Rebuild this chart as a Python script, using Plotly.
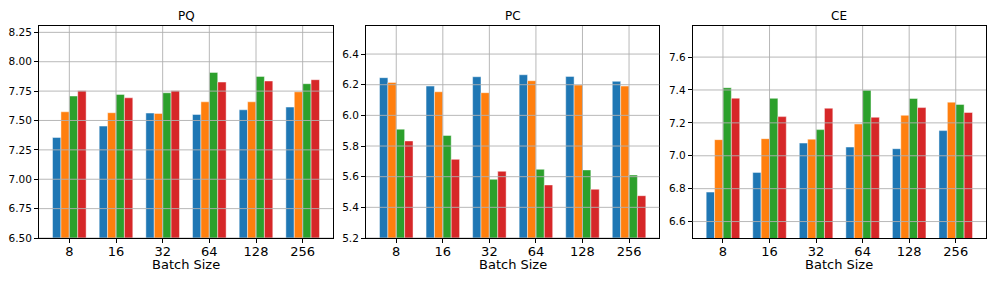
import plotly.graph_objects as go

batch_sizes = ["8", "16", "32", "64", "128", "256"]
series_colors = ["#1f77b4", "#ff7f0e", "#2ca02c", "#d62728"]

pq_s1 = [7.355, 7.452, 7.563, 7.551, 7.591, 7.614]
pq_s2 = [7.574, 7.566, 7.560, 7.659, 7.659, 7.744]
pq_s3 = [7.708, 7.722, 7.736, 7.909, 7.875, 7.813]
pq_s4 = [7.753, 7.693, 7.753, 7.827, 7.836, 7.847]

pc_s1 = [6.246, 6.191, 6.252, 6.265, 6.254, 6.222]
pc_s2 = [6.215, 6.154, 6.148, 6.226, 6.198, 6.191]
pc_s3 = [5.910, 5.869, 5.583, 5.648, 5.644, 5.611]
pc_s4 = [5.833, 5.713, 5.635, 5.546, 5.518, 5.476]

ce_s1 = [6.779, 6.899, 7.077, 7.053, 7.043, 7.153]
ce_s2 = [7.098, 7.104, 7.101, 7.193, 7.246, 7.326]
ce_s3 = [7.414, 7.349, 7.159, 7.399, 7.348, 7.312]
ce_s4 = [7.350, 7.238, 7.289, 7.234, 7.293, 7.263]

panel_titles = ["PQ", "PC", "CE"]
x_title = "Batch Size"
panel_series = [
    [pq_s1, pq_s2, pq_s3, pq_s4],
    [pc_s1, pc_s2, pc_s3, pc_s4],
    [ce_s1, ce_s2, ce_s3, ce_s4],
]
panel_ranges = [[6.5, 8.304], [5.2, 6.583], [6.5, 7.789]]
panel_ticks = [
    [6.50, 6.75, 7.00, 7.25, 7.50, 7.75, 8.00, 8.25],
    [5.2, 5.4, 5.6, 5.8, 6.0, 6.2, 6.4],
    [6.6, 6.8, 7.0, 7.2, 7.4, 7.6],
]
panel_fmt = [".2f", ".1f", ".1f"]
x_domains = [[39 / 997, 333 / 997], [366 / 997, 659.3 / 997], [692.7 / 997, 986 / 997]]
y_domain = [1 - 238 / 285, 1 - 26 / 285]

fig = go.Figure()
grid_color = "#b0b0b0"
shapes = []
annotations = []

for i in range(3):
    xa = "x" if i == 0 else f"x{i+1}"
    ya = "y" if i == 0 else f"y{i+1}"
    for k, vals in enumerate(panel_series[i]):
        fig.add_trace(go.Bar(
            x=batch_sizes, y=vals, xaxis=xa, yaxis=ya,
            marker=dict(color=series_colors[k],
                        line=dict(color="rgba(255,255,255,0.45)", width=1)),
            offsetgroup=str(k), showlegend=False,
        ))
    base = ya.replace("y", "yaxis")
    xbase = xa.replace("x", "xaxis")
    fig.layout[xbase] = dict(
        domain=x_domains[i], anchor=ya, type="category", automargin=False,
        range=[-0.65, 5.65], showgrid=False,
        showline=True, linecolor="black", linewidth=1, mirror=True,
        ticks="outside", ticklen=4, tickcolor="black", ticklabelstandoff=-3,
        tickfont=dict(family="DejaVu Sans", size=13, color="black"),
        zeroline=False,
    )
    fig.layout[base] = dict(
        domain=y_domain, anchor=xa, range=panel_ranges[i], automargin=False,
        tickvals=panel_ticks[i], tickformat=panel_fmt[i], showgrid=False,
        showline=True, linecolor="black", linewidth=1, mirror=True,
        ticks="outside", ticklen=4, tickcolor="black",
        tickfont=dict(family="DejaVu Sans", size=10.5, color="black"),
        zeroline=False,
    )
    for t in panel_ticks[i]:
        shapes.append(dict(type="line", xref=f"{xa} domain", yref=ya,
                           x0=0, x1=1, y0=t, y1=t, layer="above",
                           line=dict(color=grid_color, width=0.9)))
    for j in range(len(batch_sizes)):
        shapes.append(dict(type="line", xref=xa, yref=f"{ya} domain",
                           x0=j, x1=j, y0=0, y1=1, layer="above",
                           line=dict(color=grid_color, width=0.9)))
    cx = sum(x_domains[i]) / 2
    annotations.append(dict(
        text=panel_titles[i], xref="paper", yref="paper",
        x=cx, y=1 - 16 / 285, showarrow=False,
        xanchor="center", yanchor="middle",
        font=dict(family="DejaVu Sans", size=12, color="black"),
    ))
    annotations.append(dict(
        text=x_title, xref="paper", yref="paper",
        x=cx, y=1 - 264.5 / 285, showarrow=False,
        xanchor="center", yanchor="middle",
        font=dict(family="DejaVu Sans", size=13, color="black"),
    ))

fig.update_layout(
    width=997, height=285, margin=dict(l=0, r=0, t=0, b=0),
    paper_bgcolor="white", plot_bgcolor="white",
    barmode="group", bargap=0.28, bargroupgap=0,
    shapes=shapes, annotations=annotations,
)

fig.write_html("out.html", config={"displayModeBar": False},
               post_script="document.body.style.margin='0px';")
